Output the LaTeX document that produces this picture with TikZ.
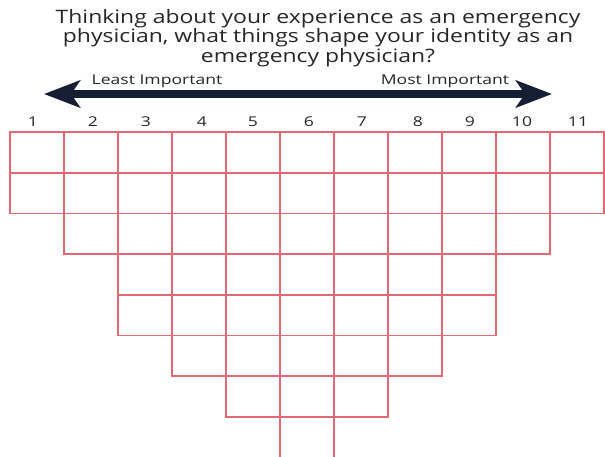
\documentclass[tikz,border=0pt]{standalone}
\usepackage{fontspec}
\setmainfont{Open Sans}
\newfontfamily\titlefont[FakeStretch=1.24]{Open Sans}
\newfontfamily\labelfont[FakeStretch=1.3]{Open Sans}
\usetikzlibrary{arrows.meta}
\definecolor{gridred}{RGB}{226,104,114}
\definecolor{navyarrow}{RGB}{22,30,52}
\begin{document}
\begin{tikzpicture}[x=1pt,y=-1pt,
  cell/.style={draw=gridred, line width=1.6pt},
  numlabel/.style={font=\labelfont\fontsize{13.5}{16}\selectfont, text=black!85},
  endlabel/.style={font=\labelfont\fontsize{13.5}{16}\selectfont, text=black!85},
  bigtip/.tip={Stealth[length=36pt,width=27pt,inset=9pt]}]
\useasboundingbox (0,0) rectangle (605,456);
\begin{scope}
\clip (0,0) rectangle (605,456);
% title
\node[align=center, font=\titlefont\fontsize{18.5}{16.5}\selectfont, anchor=north, inner sep=0pt, text=black!85] (title) at (318,9)
  {Thinking about your experience as an emergency\\physician, what things shape your identity as an\\emergency physician?};
% arrow
\coordinate (la) at (44,94);
\coordinate (ra) at (552,94);
\draw[navyarrow, line width=7.5pt, bigtip-bigtip] (la) -- (ra);
\node[endlabel] (least) at (157,81) {Least Important};
\node[endlabel] (most) at (445,81) {Most Important};
% grid
\foreach \i/\n/\lx in {1/2/33, 2/3/93, 3/5/146, 4/6/202, 5/7/253, 6/8/309, 7/7/362, 8/6/418, 9/5/470, 10/3/522, 11/2/578} {
  \pgfmathsetmacro{\xa}{10+(\i-1)*54}
  \node[numlabel] (num\i) at (\lx,122) {\i};
  \foreach \r in {1,...,\n} {
    \pgfmathsetmacro{\ya}{132+(\r-1)*40.7}
    \draw[cell] (\xa,\ya) rectangle ++(54,40.7);
  }
}
\end{scope}
\end{tikzpicture}
\end{document}
